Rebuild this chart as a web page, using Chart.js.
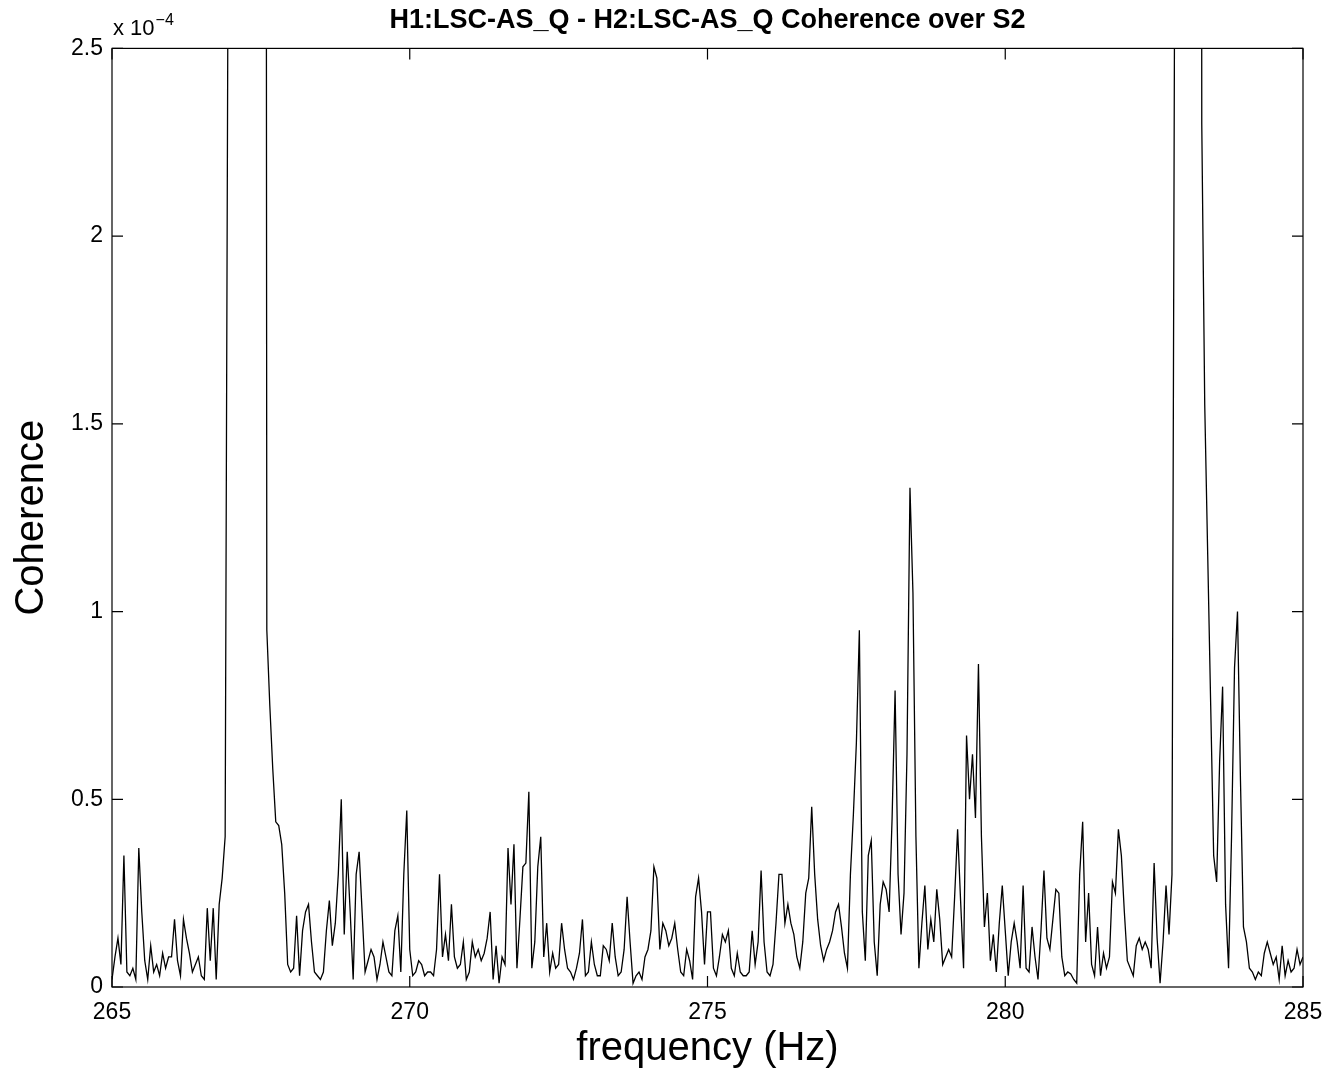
<!DOCTYPE html>
<html>
<head>
<meta charset="utf-8">
<title>H1:LSC-AS_Q - H2:LSC-AS_Q Coherence over S2</title>
<script src="https://cdn.jsdelivr.net/npm/chart.js@4.4.0/dist/chart.umd.min.js"></script>
<style>
  html, body { margin: 0; padding: 0; background: #fff; }
  #wrap { position: relative; width: 1327px; height: 1075px; }
</style>
</head>
<body>
<div id="wrap"><canvas id="cohChart"></canvas></div>
<script>
// coherence (units of 1e-4), sampled every 0.05 Hz, one array per 1 Hz band
// values above 2.5 sit off the top of the plot (the two big lines are clipped)
const c265 = [0.02,0.08,0.13,0.06,0.35,0.04,0.03,0.05,0.02,0.37,0.20,0.07,0.02,0.11,0.04,0.06,0.03,0.09,0.05,0.08];
const c266 = [0.08,0.18,0.07,0.03,0.18,0.13,0.09,0.04,0.06,0.08,0.03,0.02,0.21,0.07,0.21,0.02,0.22,0.29,0.40,2.8];
const c267 = [40,70,90,100,95,85,80,70,50,35,25,12,0.95,0.75,0.58,0.44,0.43,0.38,0.25,0.06];
const c268 = [0.04,0.05,0.19,0.03,0.15,0.20,0.22,0.12,0.04,0.03,0.02,0.04,0.15,0.23,0.11,0.17,0.30,0.50,0.14,0.36];
const c269 = [0.20,0.02,0.30,0.36,0.20,0.04,0.07,0.10,0.08,0.02,0.06,0.12,0.08,0.04,0.03,0.15,0.19,0.04,0.30,0.47];
const c270 = [0.10,0.03,0.04,0.07,0.06,0.03,0.04,0.04,0.03,0.10,0.30,0.08,0.14,0.07,0.22,0.08,0.05,0.06,0.12,0.02];
const c271 = [0.04,0.12,0.08,0.10,0.07,0.09,0.13,0.20,0.02,0.11,0.01,0.08,0.06,0.37,0.22,0.38,0.05,0.18,0.32,0.33];
const c272 = [0.52,0.05,0.12,0.32,0.40,0.08,0.17,0.04,0.09,0.05,0.06,0.17,0.10,0.05,0.04,0.02,0.05,0.09,0.18,0.03];
const c273 = [0.04,0.12,0.06,0.03,0.03,0.11,0.10,0.07,0.17,0.08,0.03,0.04,0.10,0.24,0.12,0.01,0.03,0.04,0.02,0.08];
const c274 = [0.10,0.15,0.32,0.29,0.10,0.17,0.15,0.11,0.13,0.17,0.10,0.04,0.03,0.10,0.07,0.02,0.24,0.29,0.20,0.06];
const c275 = [0.20,0.20,0.05,0.03,0.08,0.14,0.12,0.15,0.05,0.03,0.09,0.04,0.03,0.03,0.04,0.15,0.06,0.12,0.31,0.12];
const c276 = [0.04,0.03,0.06,0.17,0.30,0.30,0.17,0.22,0.17,0.14,0.08,0.05,0.12,0.25,0.29,0.48,0.30,0.18,0.11,0.07];
const c277 = [0.10,0.12,0.15,0.20,0.22,0.16,0.09,0.05,0.30,0.46,0.65,0.95,0.20,0.07,0.35,0.39,0.12,0.03,0.22,0.28];
const c278 = [0.26,0.20,0.45,0.79,0.30,0.14,0.25,0.62,1.33,1.05,0.40,0.05,0.17,0.27,0.10,0.18,0.12,0.26,0.18,0.06];
const c279 = [0.08,0.10,0.08,0.24,0.42,0.23,0.05,0.67,0.50,0.62,0.45,0.86,0.40,0.16,0.25,0.07,0.14,0.04,0.17,0.27];
const c280 = [0.15,0.03,0.12,0.17,0.12,0.05,0.27,0.05,0.04,0.16,0.08,0.02,0.15,0.31,0.13,0.10,0.18,0.26,0.25,0.08];
const c281 = [0.03,0.04,0.035,0.02,0.01,0.30,0.44,0.12,0.25,0.06,0.03,0.16,0.03,0.09,0.05,0.08,0.28,0.25,0.42,0.35];
const c282 = [0.20,0.07,0.05,0.03,0.11,0.13,0.10,0.12,0.10,0.05,0.33,0.13,0.01,0.12,0.27,0.14,0.30,3.0,60,80];
const c283 = [90,80,60,40,25,15,2.3,1.55,1.15,0.75,0.35,0.28,0.60,0.80,0.22,0.05,0.40,0.85,1.00,0.55];
const c284 = [0.16,0.12,0.05,0.04,0.02,0.04,0.03,0.09,0.12,0.09,0.06,0.08,0.02,0.11,0.03,0.07,0.04,0.05,0.10,0.06];
const c285 = [0.08];

const freqStart = 265;
const freqStep = 0.05;

const xTickValues = [265, 270, 275, 280, 285];
const yTickValues = [0, 0.5, 1, 1.5, 2, 2.5];

const coherence = [].concat(c265, c266, c267, c268, c269, c270, c271, c272, c273, c274,
                            c275, c276, c277, c278, c279, c280, c281, c282, c283, c284, c285);
const points = coherence.map((v, i) => ({ x: +(freqStart + i * freqStep).toFixed(2), y: v }));

const FONT = '"Liberation Sans", Arial, Helvetica, sans-serif';
Chart.defaults.font.family = FONT;
Chart.defaults.color = '#000';

// box round the plot with inward ticks on all four sides, plus the x10^-4 note
const matlabBox = {
  id: 'matlabBox',
  afterDatasetsDraw(chart) {
    const { ctx, chartArea: a, scales: { x, y } } = chart;
    const len = 11;
    ctx.save();
    ctx.strokeStyle = '#000';
    ctx.lineWidth = 1.2;
    ctx.strokeRect(a.left, a.top, a.right - a.left, a.bottom - a.top);
    ctx.beginPath();
    xTickValues.forEach(v => {
      const px = x.getPixelForValue(v);
      ctx.moveTo(px, a.bottom); ctx.lineTo(px, a.bottom - len);
      ctx.moveTo(px, a.top); ctx.lineTo(px, a.top + len);
    });
    yTickValues.forEach(v => {
      const py = y.getPixelForValue(v);
      ctx.moveTo(a.left, py); ctx.lineTo(a.left + len, py);
      ctx.moveTo(a.right, py); ctx.lineTo(a.right - len, py);
    });
    ctx.stroke();

    ctx.fillStyle = '#000';
    ctx.textAlign = 'left';
    ctx.textBaseline = 'alphabetic';
    ctx.font = '22px ' + FONT;
    ctx.fillText('x 10', a.left + 1, a.top - 13);
    const w = ctx.measureText('x 10').width;
    ctx.font = '16px ' + FONT;
    ctx.fillText('\u22124', a.left + 2 + w, a.top - 23);
    ctx.restore();
  }
};

new Chart(document.getElementById('cohChart'), {
  type: 'line',
  data: {
    datasets: [{
      label: 'Coherence',
      data: points,
      borderColor: '#000',
      borderWidth: 1.3,
      pointRadius: 0,
      tension: 0,
      fill: false
    }]
  },
  options: {
    responsive: true,
    maintainAspectRatio: false,
    animation: false,
    events: [],
    layout: { padding: { left: 0, right: 24, top: 0, bottom: 0 } },
    plugins: {
      legend: { display: false },
      tooltip: { enabled: false },
      title: {
        display: true,
        fullSize: false,
        text: 'H1:LSC-AS_Q - H2:LSC-AS_Q Coherence over S2',
        font: { size: 27, weight: 'bold' },
        padding: { top: 4, bottom: 12 }
      }
    },
    scales: {
      x: {
        type: 'linear',
        min: 265,
        max: 285,
        afterBuildTicks: s => { s.ticks = xTickValues.map(v => ({ value: v })); },
        afterFit: s => { s.height = 88; s.paddingLeft = 0; s.paddingRight = 0; },
        grid: { display: false, drawTicks: false },
        border: { display: false },
        ticks: { font: { size: 23 }, padding: 12, maxRotation: 0, autoSkip: false },
        title: {
          display: true,
          text: 'frequency (Hz)',
          font: { size: 40 },
          padding: { top: 0, bottom: 2 }
        }
      },
      y: {
        type: 'linear',
        min: 0,
        max: 2.5,
        afterBuildTicks: s => { s.ticks = yTickValues.map(v => ({ value: v })); },
        afterFit: s => { s.width = 112; },
        grid: { display: false, drawTicks: false },
        border: { display: false },
        ticks: { font: { size: 23 }, padding: 9, autoSkip: false, callback: v => String(v) },
        title: {
          display: true,
          text: 'Coherence',
          font: { size: 40 },
          padding: { top: 8, bottom: 0 }
        }
      }
    }
  },
  plugins: [matlabBox]
});
</script>
</body>
</html>
